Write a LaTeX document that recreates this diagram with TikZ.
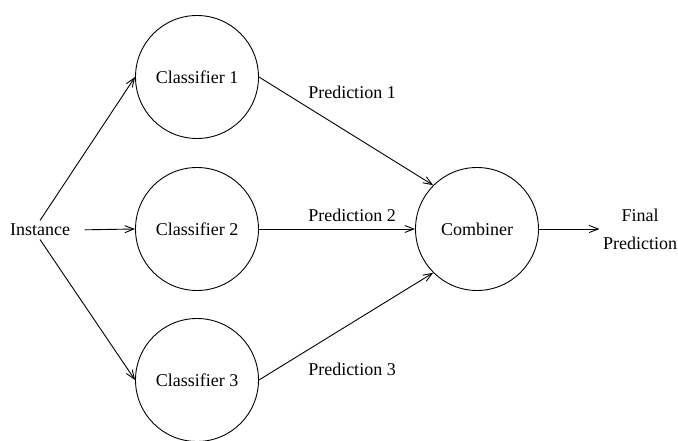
\documentclass[tikz,border=0pt]{standalone}
\usepackage{fontspec}
\setmainfont{Liberation Serif}
\usetikzlibrary{arrows.meta}
\begin{document}
\begin{tikzpicture}[x=1pt,y=-1pt,
        font=\fontsize{18}{28}\selectfont,
        >={Straight Barb[length=9pt,width=7pt]},
        clf/.style={draw,circle,line width=0.9pt,minimum size=123pt,inner sep=0pt},
        link/.style={->,line width=0.9pt}]
            \useasboundingbox (0,0) rectangle (678,441);

            \node[clf] (c_1) at (197,77) {Classifier 1};
            \node[clf] (c_2) at (197,229) {Classifier 2};
            \node[clf] (c_3) at (197,380) {Classifier 3};
            \node[clf] (comb) at (477,229) {Combiner};

            \node (inst) at (40,230) {Instance};
            \node[align=center] (final) at (640,229) {Final\\Prediction};

            \node (p_1) at (352,92) {Prediction 1};
            \node (p_2) at (352,215) {Prediction 2};
            \node (p_3) at (352,369) {Prediction 3};

            \draw[link] (inst.north) -- (c_1.west);
            \draw[link,shorten <=11pt] (inst.east) -- (c_2.west);
            \draw[link] (inst.south) -- (c_3.west);

            \draw[link] (c_1.east) -- (comb.135);
            \draw[link] (c_2.east) -- (comb.west);
            \draw[link] (c_3.east) -- (comb.225);

            \draw[link] (comb.east) -- (final.west);
        \end{tikzpicture}
\end{document}
